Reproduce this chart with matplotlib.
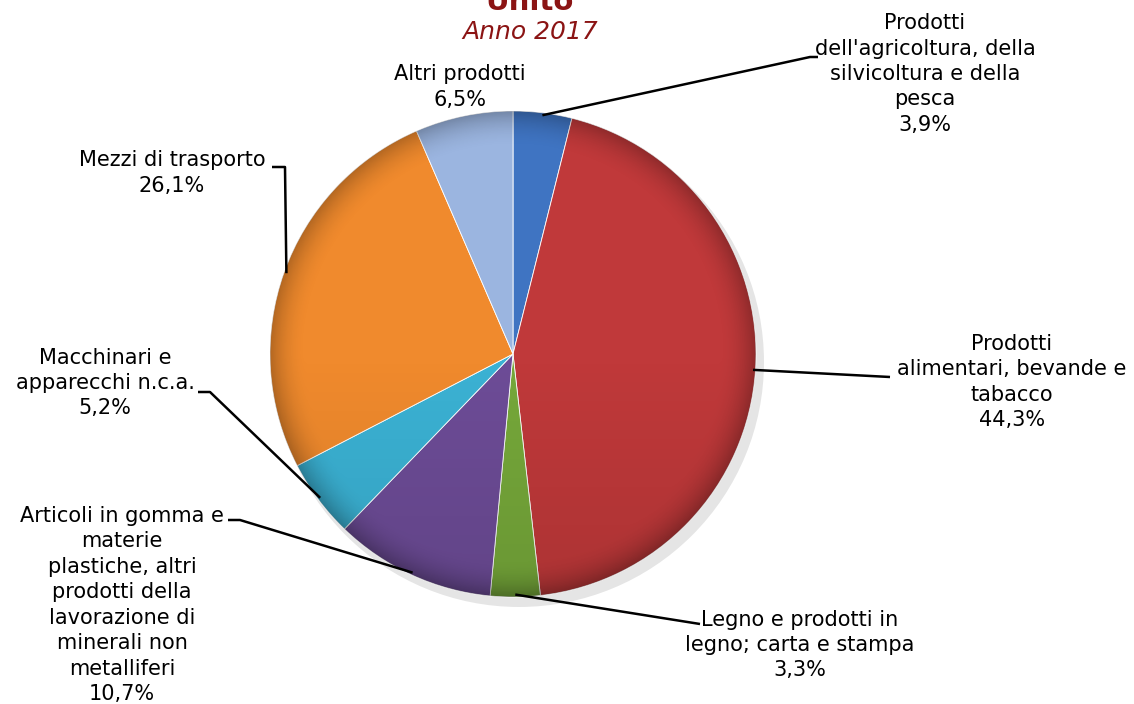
import numpy as np
import matplotlib.pyplot as plt
from matplotlib.patches import Circle

labels = ["Prodotti\ndell'agricoltura, della\nsilvicoltura e della\npesca",
          "Prodotti\nalimentari, bevande e\ntabacco",
          "Legno e prodotti in\nlegno; carta e stampa",
          "Articoli in gomma e\nmaterie\nplastiche, altri\nprodotti della\nlavorazione di\nminerali non\nmetalliferi",
          "Macchinari e\napparecchi n.c.a.",
          "Mezzi di trasporto",
          "Altri prodotti"]
values = [3.9, 44.3, 3.3, 10.7, 5.2, 26.1, 6.5]
colors = ["#3f74c2", "#c0393a", "#76a83a", "#6d4c97", "#3bb2d4", "#f08a2d", "#9bb5e0"]

W, H = 1134, 704
cx, cy, R = 513, H - 354, 243

# label text centers (pixels from top) and the elbow points of the leaders
lab_pos = [(925, 74), (1012, 382), (800, 645), (122, 605), (105, 383), (172, 173), (460, 87)]
elbows = [[(810, 57), (818, 57)],
          [(890, 377)],
          [(700, 624)],
          [(240, 520), (228, 520)],
          [(210, 392), (198, 392)],
          [(285, 167), (272, 167)],
          None]

fig = plt.figure(figsize=(W / 100, H / 100), dpi=100)
ax = fig.add_axes([0, 0, 1, 1])

# shadow
ax.add_patch(Circle((cx + 6, cy - 8), R + 2, color="#000000", alpha=0.10, lw=0))

wedges, _ = ax.pie(values, colors=colors, startangle=90, counterclock=False,
                   center=(cx, cy), radius=R,
                   wedgeprops=dict(edgecolor="#ffffff", linewidth=0.6))

# rim shading to mimic the bevel
n = 400
xs = np.linspace(cx - R, cx + R, n)
ys = np.linspace(cy - R, cy + R, n)
X, Y = np.meshgrid(xs, ys)
rr = np.sqrt((X - cx) ** 2 + (Y - cy) ** 2) / R
shade = np.zeros((n, n, 4))
a = np.clip((rr - 0.85) / 0.15, 0, 1) ** 2 * 0.25
a += np.clip((Y - cy) / R * -1, 0, 1) * 0.10
shade[..., 3] = a
img = ax.imshow(shade, extent=(cx - R, cx + R, cy - R, cy + R), origin="lower", zorder=3)
img.set_clip_path(Circle((cx, cy), R, transform=ax.transData))

ang = 90.0
for i, v in enumerate(values):
    mid = ang - v * 3.6 / 2
    ang -= v * 3.6
    tx, ty = lab_pos[i]
    txt = labels[i] + "\n" + ("%.1f%%" % v).replace(".", ",")
    ax.text(tx, H - ty, txt, ha="center", va="center", fontsize=15,
            linespacing=1.34, color="#000000", family="DejaVu Sans")
    if elbows[i] is None:
        continue
    px = cx + R * 0.99 * np.cos(np.radians(mid))
    py = cy + R * 0.99 * np.sin(np.radians(mid))
    pts = [(px, py)] + [(ex, H - ey) for ex, ey in elbows[i]]
    ax.plot([p[0] for p in pts], [p[1] for p in pts], color="black", lw=1.8,
            zorder=5, solid_capstyle="butt")

ax.text(530, H - 10, "Unito", ha="center", va="baseline", fontsize=21,
        fontweight="bold", color="#8b1414", family="DejaVu Sans")
ax.text(530, H - 39, "Anno 2017", ha="center", va="baseline", fontsize=18,
        fontstyle="italic", color="#8b1414", family="DejaVu Sans")

ax.set_xlim(0, W)
ax.set_ylim(0, H)
ax.set_aspect("equal")
ax.axis("off")
fig.savefig("out.png", dpi=100)
